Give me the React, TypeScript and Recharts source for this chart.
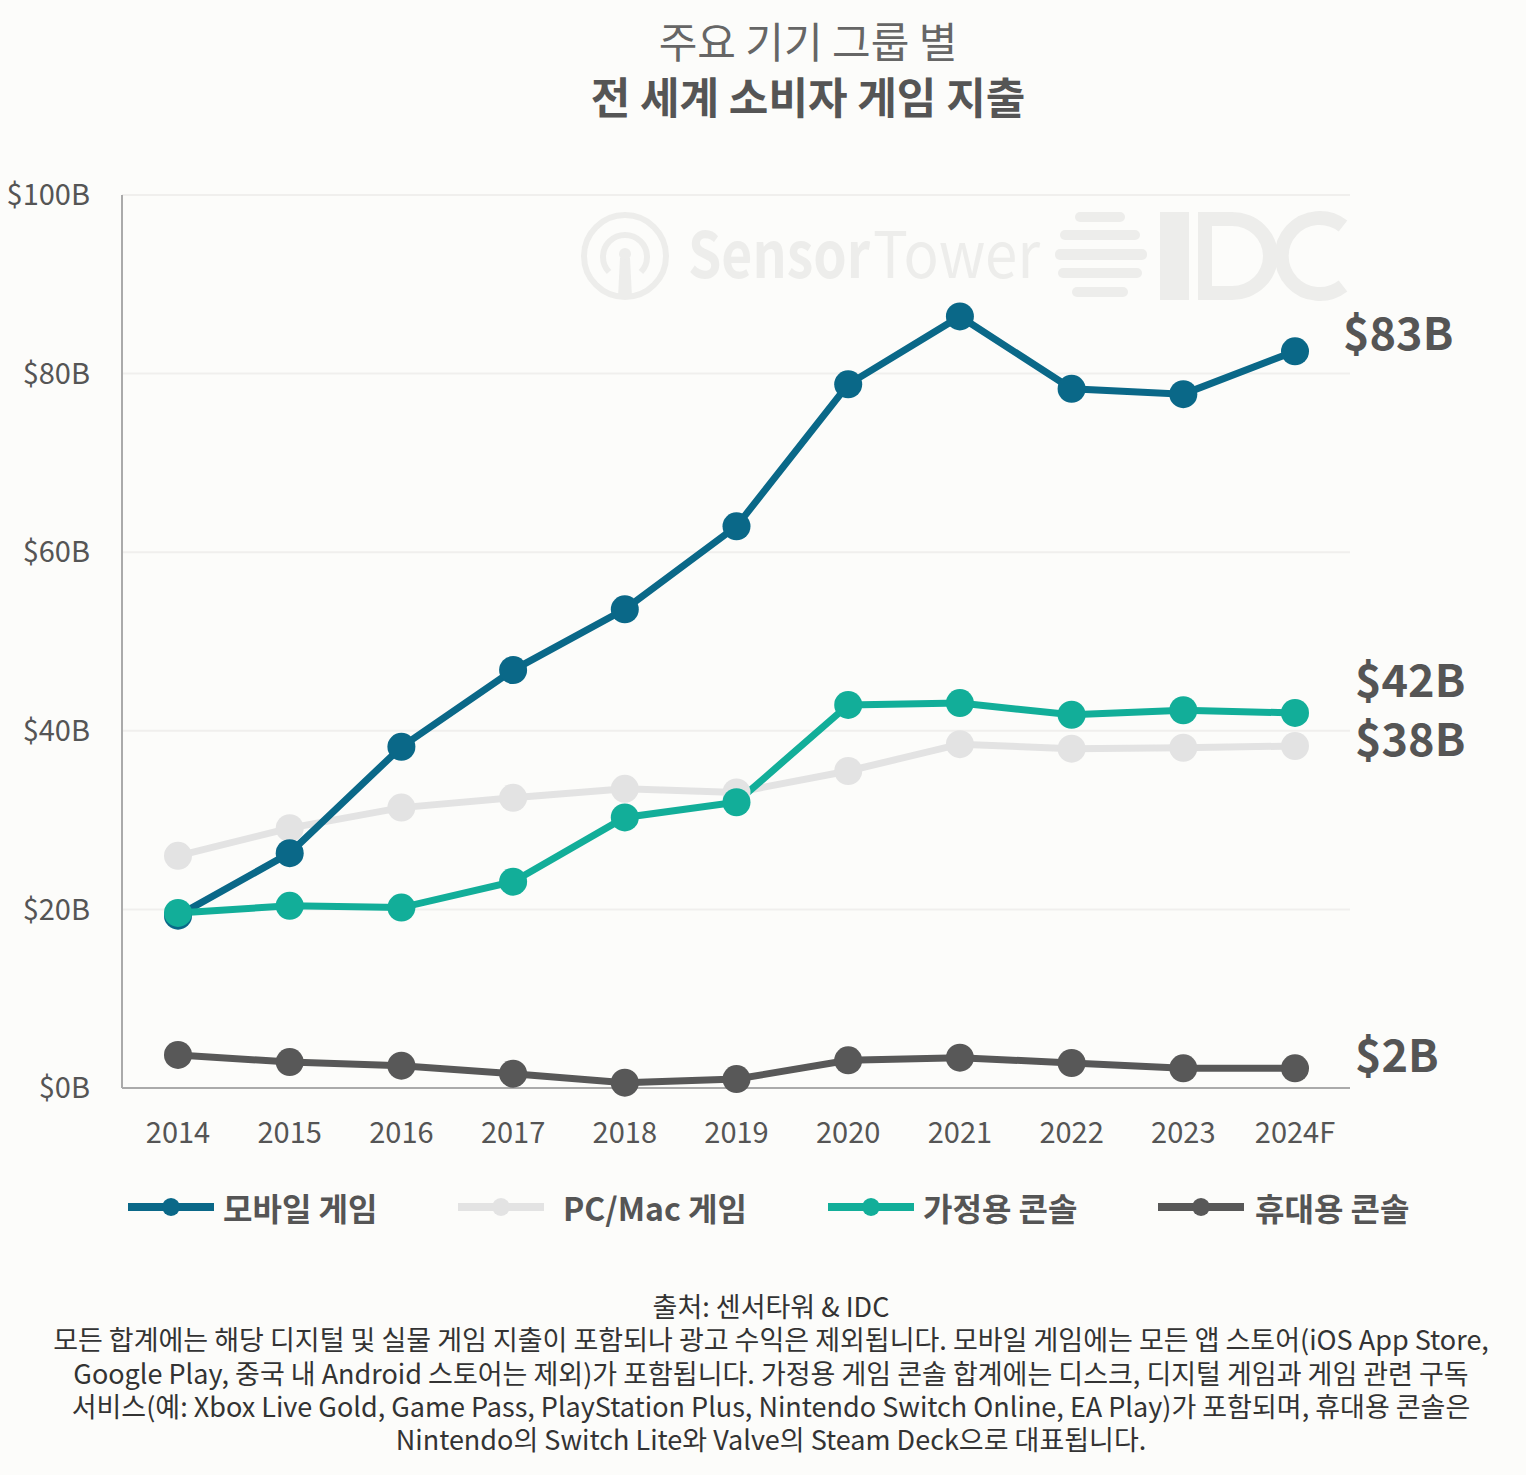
import { LineChart, Line, XAxis, YAxis, CartesianGrid, LabelList } from "recharts";

const years = ["2014", "2015", "2016", "2017", "2018", "2019", "2020", "2021", "2022", "2023", "2024F"];
const mobile = [19.3, 26.3, 38.2, 46.8, 53.6, 62.9, 78.8, 86.4, 78.3, 77.7, 82.5];
const pcMac = [26.0, 29.1, 31.4, 32.5, 33.5, 33.1, 35.5, 38.5, 38.0, 38.1, 38.3];
const homeConsole = [19.6, 20.4, 20.2, 23.1, 30.3, 32.0, 42.9, 43.1, 41.8, 42.3, 42.0];
const handheld = [3.7, 2.9, 2.5, 1.6, 0.6, 1.0, 3.1, 3.4, 2.8, 2.2, 2.2];
const yTicks = [0, 20, 40, 60, 80, 100];

const seriesNames = ["모바일 게임", "PC/Mac 게임", "가정용 콘솔", "휴대용 콘솔"];
const endLabels = ["$83B", "$38B", "$42B", "$2B"];

const data = years.map((year, i) => ({
  year,
  mobile: mobile[i],
  pc: pcMac[i],
  console: homeConsole[i],
  handheld: handheld[i],
}));

const FONT = '"Noto Sans CJK KR", "Noto Sans", sans-serif';
const WM = "#ededeb";

// draw order: PC under mobile, console and handheld on top
const series = [
  { key: "pc", name: seriesNames[1], color: "#e3e3e3", label: endLabels[1], labelDx: 60, labelDy: -2 },
  { key: "mobile", name: seriesNames[0], color: "#0a6888", label: endLabels[0], labelDx: 48, labelDy: -13 },
  { key: "console", name: seriesNames[2], color: "#12ae99", label: endLabels[2], labelDx: 60, labelDy: -28 },
  { key: "handheld", name: seriesNames[3], color: "#585858", label: endLabels[3], labelDx: 60, labelDy: -9 },
];

const legendItems = [
  { name: seriesNames[0], color: "#0a6888", x: 128, tx: 223 },
  { name: seriesNames[1], color: "#e3e3e3", x: 458, tx: 563 },
  { name: seriesNames[2], color: "#12ae99", x: 828, tx: 923 },
  { name: seriesNames[3], color: "#585858", x: 1158, tx: 1255 },
];

const makeEndLabel = (text: string, dx: number, dy: number) => (props: any) => {
  const { x, y, index } = props;
  if (index !== years.length - 1) return null;
  return (
    <text x={x + dx} y={y + dy} dominantBaseline="middle" fill="#555" fontSize={45} fontWeight={700} fontFamily={FONT}>
      {text}
    </text>
  );
};

const Watermark = () => (
  <svg width={1526} height={320} style={{ position: "absolute", left: 0, top: 0 }}>
    <g fill="none" stroke={WM} strokeWidth={6}>
      <circle cx={625} cy={256} r={41} />
      <path d="M 609 272 A 22 22 0 1 1 641 272" />
    </g>
    <path d="M 620 258 L 630 258 L 632 297 L 618 297 Z" fill={WM} />
    <circle cx={625} cy={254} r={6} fill={WM} />
    <text x={688} y={278} fill={WM} fontSize={64} fontWeight={700} fontFamily={FONT} textLength={182} lengthAdjust="spacingAndGlyphs">
      Sensor
    </text>
    <text x={873} y={278} fill={WM} fontSize={64} fontWeight={400} fontFamily={FONT} textLength={167} lengthAdjust="spacingAndGlyphs">
      Tower
    </text>
    <g fill={WM}>
      <rect x={1075} y={212} width={50} height={10} rx={5} />
      <rect x={1060} y={230} width={80} height={10} rx={5} />
      <rect x={1055} y={249} width={92} height={11} rx={5} />
      <rect x={1058} y={268} width={84} height={10} rx={5} />
      <rect x={1072} y={287} width={56} height={10} rx={5} />
      <rect x={1160} y={212} width={29} height={88} />
      <path
        fillRule="evenodd"
        d="M 1198 212 H 1232 A 46 44 0 0 1 1232 300 H 1198 Z M 1212 226 H 1232 A 31 30 0 0 1 1232 286 H 1212 Z"
      />
    </g>
    <path d="M 1343 226 A 38 38 0 1 0 1343 286" fill="none" stroke={WM} strokeWidth={14} />
  </svg>
);

export default function App() {
  return (
    <div
      style={{
        position: "absolute",
        left: 0,
        top: 0,
        width: 1526,
        height: 1475,
        background: "#fcfcfa",
        fontFamily: FONT,
        overflow: "hidden",
      }}
    >
      <div style={{ position: "absolute", left: 0, width: 1616, top: 12, textAlign: "center", color: "#666", fontSize: 42, lineHeight: "56px" }}>
        주요 기기 그룹 별
      </div>
      <div style={{ position: "absolute", left: 0, width: 1616, top: 67, textAlign: "center", color: "#555", fontSize: 43, fontWeight: 700, lineHeight: "56px" }}>
        전 세계 소비자 게임 지출
      </div>

      <Watermark />

      <div style={{ position: "absolute", left: 0, top: 0 }}>
        <LineChart width={1526} height={1190} data={data} margin={{ top: 195, right: 176, left: 8, bottom: 72 }}>
          <CartesianGrid vertical={false} stroke="#f0efed" strokeWidth={2} />
          <XAxis
            dataKey="year"
            padding={{ left: 56, right: 55 }}
            tickLine={false}
            axisLine={{ stroke: "#aaa", strokeWidth: 2 }}
            tick={{ fill: "#555", fontSize: 29, fontFamily: FONT }}
            tickMargin={28}
            interval={0}
          />
          <YAxis
            width={114}
            domain={[0, 100]}
            ticks={yTicks}
            tickFormatter={(v: number) => `$${v}B`}
            tickLine={false}
            axisLine={{ stroke: "#aaa", strokeWidth: 2 }}
            tick={{ fill: "#555", fontSize: 29, fontFamily: FONT }}
            tickMargin={26}
          />
          {series.map((s) => (
            <Line
              key={s.key}
              dataKey={s.key}
              name={s.name}
              stroke={s.color}
              strokeWidth={7}
              dot={{ r: 14, fill: s.color, stroke: s.color, strokeWidth: 0 }}
              activeDot={false}
              isAnimationActive={false}
            >
              <LabelList dataKey={s.key} content={makeEndLabel(s.label, s.labelDx, s.labelDy)} />
            </Line>
          ))}
        </LineChart>
      </div>

      {legendItems.map((it) => (
        <div key={it.name}>
          <svg width={86} height={24} style={{ position: "absolute", left: it.x, top: 1195 }}>
            <rect x={0} y={8} width={86} height={8} fill={it.color} />
            <circle cx={43} cy={12} r={9} fill={it.color} />
          </svg>
          <div style={{ position: "absolute", left: it.tx, top: 1184, lineHeight: "46px", fontSize: 32, fontWeight: 700, color: "#555", whiteSpace: "nowrap" }}>
            {it.name}
          </div>
        </div>
      ))}

      <div style={{ position: "absolute", left: 0, width: 1542, top: 1289, textAlign: "center", color: "#333", fontSize: 27, lineHeight: "33.3px", whiteSpace: "nowrap" }}>
        출처: 센서타워 &amp; IDC
        <br />
        모든 합계에는 해당 디지털 및 실물 게임 지출이 포함되나 광고 수익은 제외됩니다. 모바일 게임에는 모든 앱 스토어(iOS App Store,
        <br />
        Google Play, 중국 내 Android 스토어는 제외)가 포함됩니다. 가정용 게임 콘솔 합계에는 디스크, 디지털 게임과 게임 관련 구독
        <br />
        서비스(예: Xbox Live Gold, Game Pass, PlayStation Plus, Nintendo Switch Online, EA Play)가 포함되며, 휴대용 콘솔은
        <br />
        Nintendo의 Switch Lite와 Valve의 Steam Deck으로 대표됩니다.
      </div>
    </div>
  );
}
